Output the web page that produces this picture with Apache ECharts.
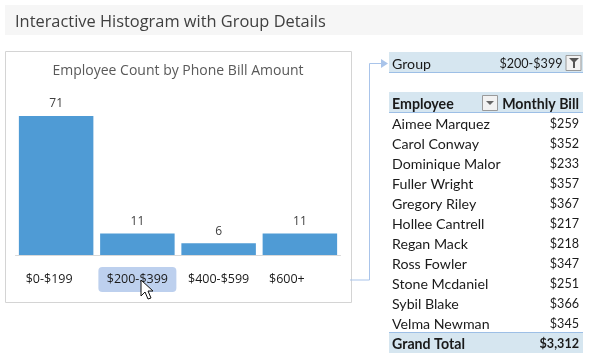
<!DOCTYPE html>
<html><head><meta charset="utf-8">
<style>html,body{margin:0;padding:0;background:#fff}#c{width:600px;height:360px}</style>
<script src="https://cdn.jsdelivr.net/npm/echarts@6/dist/echarts.min.js"></script>
</head><body><div id="c"></div>
<script>
const categories = ['$0-$199','$200-$399','$400-$599','$600+'];
const counts = [71,11,6,11];
const selectedGroup = '$200-$399';
const employees = ['Aimee Marquez','Carol Conway','Dominique Malor','Fuller Wright','Gregory Riley','Hollee Cantrell','Regan Mack','Ross Fowler','Stone Mcdaniel','Sybil Blake','Velma Newman'];
const bills = ['$259','$352','$233','$357','$367','$217','$218','$347','$251','$366','$345'];
const grandTotal = '$3,312';
const pageTitle = 'Interactive Histogram with Group Details';
const chartTitle = 'Employee Count by Phone Bill Amount';

const FONT = '"Open Sans"', TABLE_FONT = 'Lato';
const BAND = '#D6E6F0', RULE = '#9DBFE6', INK = '#1a1a1a';
const txt = (x,y,text,o={}) => ({type:'text',x,y,z:5,silent:true,style:Object.assign({text,font:`${o.weight||'normal'} ${o.size||14.2}px ${o.family||TABLE_FONT}`,fill:INK,align:o.align||'left',verticalAlign:'middle'},o.style||{})});
const rect = (x,y,width,height,fill,z=1) => ({type:'rect',silent:true,z,shape:{x,y,width,height},style:{fill}});
const line = (x1,y1,x2,y2,stroke,lineWidth=1,z=2) => ({type:'line',silent:true,z,shape:{x1,y1,x2,y2},style:{stroke,lineWidth}});

const g = [
  rect(5,5,578,30,'#F6F6F6'),
  txt(15,22,pageTitle,{size:16.4,family:FONT,style:{fill:'#404040'}}),
  {type:'rect',silent:true,z:0,shape:{x:5.5,y:51.5,width:346,height:251},style:{fill:'#fff',stroke:'#D4D4D4',lineWidth:1}},
  // connector
  {type:'polyline',silent:true,z:2,shape:{points:[[350,280],[369.5,280],[369.5,63.5],[381,63.5]]},style:{stroke:'#A9C4EA',lineWidth:1,fill:null}},
  {type:'polygon',silent:true,z:2,shape:{points:[[381,59],[388,63.5],[381,68]]},style:{fill:'#A9C4EA'}},
  // slicer row
  rect(389,52,194,20,BAND), line(389,72.5,583,72.5,RULE),
  txt(392,64,'Group'),
  txt(562.5,64,selectedGroup,{align:'right',size:12.6}),
  {type:'rect',silent:true,z:3,shape:{x:566,y:55.5,width:15,height:15},style:{fill:'#F2F2F2',stroke:'#9A9A9A'}},
  {type:'polygon',silent:true,z:4,shape:{points:[[569,58],[579,58],[575,62],[575,68],[573,68],[573,62]]},style:{fill:'#555'}},
  // header
  rect(389,92,194,20,BAND), line(389,112.5,583,112.5,RULE),
  txt(392,104,'Employee',{weight:'bold'}),
  txt(579,104,'Monthly Bill',{weight:'bold',align:'right'}),
  {type:'rect',silent:true,z:3,shape:{x:482.5,y:95.5,width:15,height:15},style:{fill:'#F2F2F2',stroke:'#9A9A9A'}},
  {type:'polygon',silent:true,z:4,shape:{points:[[486,101],[494,101],[490,105]]},style:{fill:'#666'}},
  // total
  rect(389,333,194,20,BAND), line(389,332.5,583,332.5,RULE),
  txt(392,344,'Grand Total',{weight:'bold'}),
  txt(579,344,grandTotal,{weight:'bold',align:'right',size:12.6}),
  // cursor
  {type:'polygon',silent:true,z:20,shape:{points:[[141,280],[141,296],[145,292],[148,299],[151,298],[148,291],[153,291]]},style:{fill:'#fff',stroke:'#111',lineWidth:1}}
];
employees.forEach((n,i)=>{
  g.push(txt(392,124+i*20,n));
  g.push(txt(579,124+i*20,bills[i],{align:'right',size:12.6}));
});

const chart = echarts.init(document.getElementById('c'),null,{renderer:'canvas'});
chart.setOption({
  animation:false,
  backgroundColor:'#fff',
  title:{text:chartTitle,left:178,top:71,padding:0,textAlign:'center',textVerticalAlign:'middle',textStyle:{fontFamily:FONT,fontSize:14,fontWeight:'normal',color:'#595959'}},
  grid:{left:15.5,width:325,top:116,height:139},
  xAxis:{type:'category',data:categories,
    axisLine:{lineStyle:{color:'#D9D9D9',width:1}},axisTick:{show:false},
    axisLabel:{interval:0,margin:12,fontFamily:FONT,fontSize:12.5,color:INK,hideOverlap:false,
      formatter:(v,i)=>{const k=['a','sel','c','d'][i];return `{${k}|${v}}`;},
      rich:{
        a:{height:25,padding:[0,14,0,0],fontFamily:FONT,fontSize:12.5,color:INK},
        sel:{height:25,width:78,align:'center',backgroundColor:'#BDD0EE',borderRadius:4,fontFamily:FONT,fontSize:12.5,color:INK},
        c:{height:25,fontFamily:FONT,fontSize:12.5,color:INK},
        d:{height:25,padding:[0,26,0,0],fontFamily:FONT,fontSize:12.5,color:INK}
      }}},
  yAxis:{type:'value',min:0,max:71,show:false,splitLine:{show:false}},
  series:[{type:'bar',data:counts,barWidth:74.5,itemStyle:{color:'#4F9BD5'},
    label:{show:true,position:'top',distance:6,fontFamily:FONT,fontSize:12,color:'#404040'}}],
  graphic:g
});
</script></body></html>
